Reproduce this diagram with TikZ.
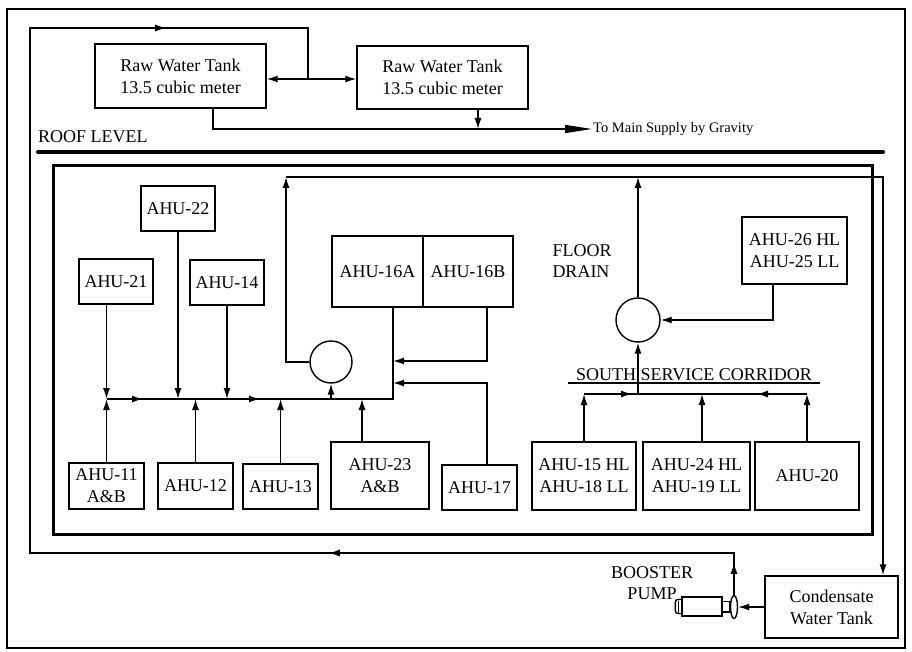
\documentclass[tikz,border=0pt]{standalone}
\usepackage{fontspec}
\setmainfont{Liberation Serif}
\usepackage{tikz}
\usetikzlibrary{arrows.meta,calc,decorations.markings,shapes.geometric}
\tikzset{
  tubo/.style={line width=1.4pt},
  caja/.style={draw,line width=1.4pt,inner sep=0pt,align=center,font=\fontsize{18}{22}\selectfont},
  sumidero/.style={draw,circle,line width=1.4pt,inner sep=0pt},
  rotulo/.style={inner sep=0pt,align=center,font=\fontsize{18}{21}\selectfont},
  flechas/.style 2 args={postaction={decorate},decoration={markings,
    mark=at position #1 with {\arrow{>}},mark=at position #2 with {\arrow{>}}}}
}

\begin{document}
\begin{tikzpicture}[x=1pt,y=-1pt,>={Latex[length=11pt,width=7pt]}]
  \useasboundingbox (0,0) rectangle (912,652);
  % marcos y nivel de techo
  \draw[line width=2.2pt] (7,9) rectangle (905,648);
  \draw[line width=3pt] (53,166) rectangle (872,534);
  \draw[line width=4pt,line cap=round] (38,152) -- (883,152);
  \node[rotulo,anchor=base west] (techo) at (38,143) {ROOF LEVEL};

  % tanques de agua cruda
  \node[caja,minimum width=171pt,minimum height=64pt] (tanque1) at (180.5,76) {Raw Water Tank\\13.5 cubic meter};
  \node[caja,minimum width=171pt,minimum height=63pt] (tanque2) at (442.5,77.5) {Raw Water Tank\\13.5 cubic meter};
  \node[anchor=west,inner sep=1pt,font=\fontsize{14.5}{16}\selectfont] (destino) at (592,129) {To Main Supply by Gravity};
  \coordinate (cReparto) at (308,79);
  \coordinate (cRetArriba) at (30,28);
  \coordinate (cRetIzq) at (30,553);

  % unidades lado oeste
  \node[caja,minimum width=74pt,minimum height=45pt] (ahu22) at (178,208.5) {AHU-22};
  \node[caja,minimum width=74pt,minimum height=45pt] (ahu21) at (116,281.5) {AHU-21};
  \node[caja,minimum width=74pt,minimum height=45pt] (ahu14) at (227,282.5) {AHU-14};
  \node[caja,minimum width=91pt,minimum height=71pt] (ahu16A) at (377.5,271.5) {AHU-16A};
  \node[caja,minimum width=90pt,minimum height=71pt] (ahu16B) at (468,271.5) {AHU-16B};
  \node[caja,minimum width=75pt,minimum height=46pt] (ahu11) at (106.5,486) {AHU-11\\A\&B};
  \node[caja,minimum width=75pt,minimum height=46pt] (ahu12) at (195.5,486) {AHU-12};
  \node[caja,minimum width=75pt,minimum height=45pt] (ahu13) at (280.5,486.5) {AHU-13};
  \node[caja,minimum width=98pt,minimum height=67pt] (ahu23) at (380,475.5) {AHU-23\\A\&B};
  \node[caja,minimum width=75pt,minimum height=45pt] (ahu17) at (479.5,487.5) {AHU-17};
  \node[sumidero,minimum size=42pt] (sumA) at (331,362) {};
  \coordinate (cColectorA) at (331,399);
  \coordinate (cEsquina) at (393,399);
  \coordinate (cEntradaB) at (393,361);
  \coordinate (cEntrada17) at (393,383);
  \coordinate (cRetorno) at (286,177);
  \coordinate (cBajada) at (883,177);

  % unidades lado sur
  \node[caja,minimum width=104pt,minimum height=68pt] (ahu15) at (584,476) {AHU-15 HL\\AHU-18 LL};
  \node[caja,minimum width=107pt,minimum height=68pt] (ahu24) at (696.5,476) {AHU-24 HL\\AHU-19 LL};
  \node[caja,minimum width=104pt,minimum height=68pt] (ahu20) at (807,476) {AHU-20};
  \node[caja,minimum width=105pt,minimum height=67pt] (ahu26) at (794.5,250.5) {AHU-26 HL\\AHU-25 LL};
  \node[sumidero,minimum size=44pt] (sumB) at (638,320) {};
  \node[rotulo,align=left] (drenaje) at (582,261) {FLOOR\\DRAIN};
  \node[rotulo,anchor=base] (corredor) at (694,380) {SOUTH SERVICE CORRIDOR};
  \draw[tubo] (568,383) -- (820,383);
  \coordinate (cColectorB) at (638,394);

  % tanque de condensado y bomba
  \node[caja,minimum width=133pt,minimum height=62pt] (condensado) at (831.5,607) {Condensate\\Water Tank};
  \node[draw,tubo,minimum width=40pt,minimum height=19pt,inner sep=0pt] (bomba) at (702,606.5) {};
  \node[draw,tubo,ellipse,minimum width=7pt,minimum height=23pt,inner sep=0pt] (valvula) at (734,607) {};
  \node[rotulo] (booster) at (652,583) {BOOSTER\\PUMP};
  \draw[tubo,rounded corners=2.5pt] ([yshift=7pt]bomba.west) -| ([xshift=-6pt,yshift=-7pt]bomba.west) -- ([yshift=-7pt]bomba.west);
  \draw[tubo] ([xshift=-3pt,yshift=6pt]bomba.west) -- ([xshift=-3pt,yshift=-6pt]bomba.west);
  \draw[tubo] ([yshift=5pt]bomba.east) rectangle ([yshift=-5pt]valvula.west);

  % tuberias de agua cruda
  \draw[tubo,<->] (tanque1.east |- cReparto) -- (tanque2.west |- cReparto);
  \draw[tubo,-{Triangle[length=27pt,width=8pt]}] ([xshift=32.5pt]tanque1.south) |- (destino.west);
  \draw[tubo,->] ([xshift=35.5pt]tanque2.south) -- ([xshift=35.5pt]tanque2.south |- destino.west);
  \draw[tubo,postaction={decorate},decoration={markings,
      mark=at position 32pt with {\arrow{>}},
      mark=at position 447pt with {\arrow{>}},
      mark=at position 1407pt with {\arrow{>}}}]
    (valvula.north) |- (cRetIzq) -- (cRetArriba) -| (cReparto);
  \draw[tubo,->] (condensado.west |- valvula) -- (valvula.east);

  % colector oeste
  \draw[tubo,flechas={36.5pt}{153.5pt}] (ahu11.north |- cColectorA) -- (cEsquina) -- (cEsquina |- ahu16A.south);
  \draw[tubo,->] (ahu21.south -| ahu11.north) -- (ahu11.north |- cColectorA);
  \draw[tubo,->] (ahu22.south) -- (ahu22.south |- cColectorA);
  \draw[tubo,->] (ahu14.south) -- (ahu14.south |- cColectorA);
  \draw[tubo,->] (ahu11.north) -- (ahu11.north |- cColectorA);
  \draw[tubo,->] (ahu12.north) -- (ahu12.north |- cColectorA);
  \draw[tubo,->] (ahu13.north) -- (ahu13.north |- cColectorA);
  \draw[tubo,->] ([xshift=-18pt]ahu23.north) -- ([xshift=-18pt]ahu23.north |- cColectorA);
  \draw[tubo,->] ([xshift=19pt]ahu16B.south) |- (cEntradaB);
  \draw[tubo,->] ([xshift=7.5pt]ahu17.north) |- (cEntrada17);
  \draw[tubo,->] (cColectorA) -- (sumA.south);
  \draw[tubo,->] (sumA.west) -| (cRetorno);

  % colector sur
  \draw[tubo,postaction={decorate},decoration={markings,
      mark=at position 48pt with {\arrow{>}},
      mark=at position 173pt with {\arrowreversed{>}}}]
    (ahu15.north |- cColectorB) -- (ahu20.north |- cColectorB);
  \draw[tubo,->] (ahu15.north) -- (ahu15.north |- cColectorB);
  \draw[tubo,->] ([xshift=5.5pt]ahu24.north) -- ([xshift=5.5pt]ahu24.north |- cColectorB);
  \draw[tubo,->] (ahu20.north) -- (ahu20.north |- cColectorB);
  \draw[tubo,->] (cColectorB) -- (sumB.south);
  \draw[tubo,->] ([xshift=-21.5pt]ahu26.south) |- (sumB.east);
  \draw[tubo,->] (sumB.north) -- (sumB.north |- cRetorno);

  % bajada al tanque de condensado
  \draw[tubo,->] (cRetorno) -- (cBajada) -- (cBajada |- condensado.north);
\end{tikzpicture}
\end{document}
